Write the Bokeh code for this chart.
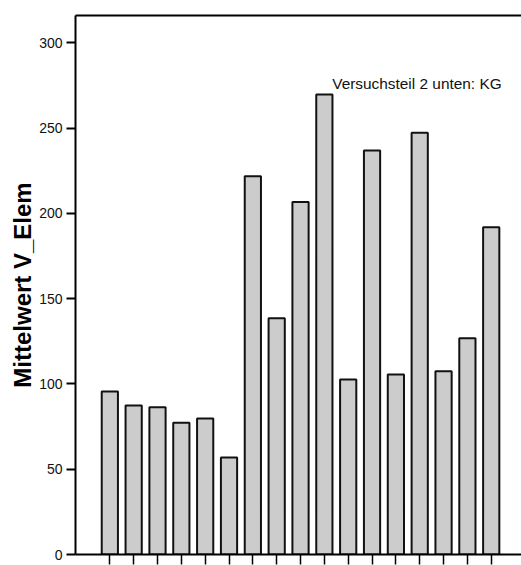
from bokeh.plotting import figure
from bokeh.models import FixedTicker, LinearAxis, Label, Range1d
from bokeh.embed import file_html
from bokeh.resources import INLINE

categories = [str(i) for i in range(1, 18)]
values = [95.6, 87.4, 86.4, 77.2, 79.7, 56.9, 221.8, 138.5, 206.6, 269.7,
          102.6, 236.9, 105.5, 247.2, 107.5, 126.8, 191.9]
y_ticks = [0, 50, 100, 150, 200, 250, 300]
y_label = "Mittelwert V_Elem"
note = "Versuchsteil 2 unten: KG"

xs = list(range(1, len(categories) + 1))

p = figure(width=521, height=565, output_backend="svg", toolbar_location=None,
           x_range=Range1d(-0.44, 18.27), y_range=Range1d(0, 316),
           min_border_left=75, min_border_right=0, min_border_top=15,
           min_border_bottom=11, x_axis_location="below")
p.outline_line_color = None
p.xgrid.visible = False
p.ygrid.visible = False
p.background_fill_color = "white"
p.border_fill_color = "white"

p.vbar(x=xs, top=values, width=0.68, fill_color="#cccccc",
       line_color="#111111", line_width=2)

# y axis
ya = p.yaxis[0]
ya.ticker = FixedTicker(ticks=y_ticks)
ya.minor_tick_line_color = None
ya.major_tick_in = 0
ya.major_tick_out = 9
ya.major_tick_line_width = 2
ya.axis_line_width = 2
ya.axis_line_color = "black"
ya.major_tick_line_color = "black"
ya.major_label_text_font = "Liberation Sans"
ya.major_label_text_font_size = "14px"
ya.major_label_text_color = "#111111"
ya.major_label_standoff = 4
ya.axis_label = y_label
ya.axis_label_text_font = "Liberation Sans"
ya.axis_label_text_font_style = "bold"
ya.axis_label_text_font_size = "24px"
ya.axis_label_text_color = "black"
ya.axis_label_standoff = 0

# x axis (tick marks only)
xa = p.xaxis[0]
xa.ticker = FixedTicker(ticks=xs)
xa.minor_tick_line_color = None
xa.major_tick_in = 0
xa.major_tick_out = 10
xa.major_tick_line_width = 1.5
xa.axis_line_width = 2
xa.axis_line_color = "black"
xa.major_tick_line_color = "black"
xa.major_label_overrides = {x: "" for x in xs}
xa.major_label_text_font_size = "1px"
xa.major_label_standoff = 0

# top line
top = LinearAxis(ticker=FixedTicker(ticks=[]), major_label_text_font_size="1px",
                 major_tick_out=0, major_tick_in=0, minor_tick_out=0,
                 minor_tick_in=0, major_label_standoff=0, axis_line_width=2,
                 axis_line_color="black")
p.add_layout(top, "above")

p.add_layout(Label(x=10.33, y=276.0, text=note, text_font="Liberation Sans",
                   text_font_size="15.4px", text_color="#111111",
                   text_baseline="alphabetic"))

open("out.html", "w").write(file_html(p, INLINE))
